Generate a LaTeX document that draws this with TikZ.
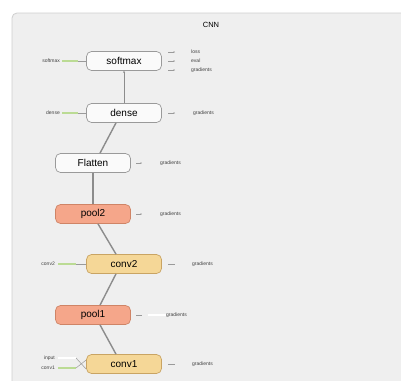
\documentclass[tikz,border=0pt]{standalone}
\usepackage{fontspec}
\setmainfont{Liberation Sans}
\usetikzlibrary{arrows.meta}
\definecolor{panelfill}{HTML}{EFEFEF}
\definecolor{panelline}{HTML}{CFCFCF}
\definecolor{opline}{HTML}{9A9A9A}
\definecolor{opfill}{HTML}{FAFAFA}
\definecolor{poolfill}{HTML}{F5A68A}
\definecolor{poolline}{HTML}{CF8466}
\definecolor{convfill}{HTML}{F5D797}
\definecolor{convline}{HTML}{C9A463}
\definecolor{feed}{HTML}{BBDB94}
\definecolor{edgecol}{HTML}{8C8C8C}
\tikzset{
  x=1pt, y=-1pt,
  op/.style={draw=opline, fill=opfill, rounded corners=5pt, line width=0.7pt,
    minimum width=75pt, minimum height=19pt, inner sep=0pt, font=\fontsize{10}{12}\selectfont},
  poolop/.style={op, draw=poolline, fill=poolfill},
  convop/.style={op, draw=convline, fill=convfill},
  tiny/.style={font=\fontsize{5}{6}\selectfont, text=black!75, inner sep=0pt},
  flow/.style={draw=edgecol, line width=1.4pt},
  thinflow/.style={draw=edgecol, line width=0.6pt},
  feedline/.style={draw=feed, line width=2.2pt},
  stub/.style={draw=opline, line width=0.5pt},
  outstub/.style={draw=opline, line width=0.5pt, -{Stealth[length=1.5pt,width=1.5pt]}},
}
\begin{document}
\begin{tikzpicture}
\useasboundingbox (0,0) rectangle (401,380);
\fill[white] (0,0) rectangle (401,380);
% graph panel, running off the right and bottom edges
\draw[panelline, fill=panelfill, line width=0.8pt, rounded corners=5pt]
  (12,395) rectangle (415,13);
\node[font=\fontsize{7.5}{9}\selectfont] (title) at (211,25) {CNN};

% operations
\node[op] (softmax) at (124,61) {softmax};
\node[op] (dense) at (124,113) {dense};
\node[op] (flatten) at (93,163) {Flatten};
\node[poolop] (pool2) at (93,214) {pool2};
\node[convop] (conv2) at (124,264) {conv2};
\node[poolop] (pool1) at (93,315) {pool1};
\node[convop] (conv1) at (124,364) {conv1};

% data flow between operations
\draw[thinflow, -{Stealth[length=2pt,width=2pt]}] (dense.north) -- (softmax.south);
\draw[flow] ([xshift=-8pt]dense.south) -- ([xshift=7pt]flatten.north);
\draw[flow] (flatten.south) -- (pool2.north);
\draw[flow] ([xshift=5pt]pool2.south) -- ([xshift=-8pt]conv2.north);
\draw[flow] ([xshift=-8pt]conv2.south) -- ([xshift=7pt]pool1.north);
\draw[flow] ([xshift=7pt]pool1.south) -- ([xshift=-8pt]conv1.north);

% inputs on the left
\node[tiny, anchor=east] (insoftmax) at (60,61) {softmax};
\draw[feedline] (62,61) -- (78,61);
\draw[stub] (78,61) -- (softmax.west);
\node[tiny, anchor=east] (indense) at (60,113) {dense};
\draw[feedline] (62,113) -- (78,113);
\draw[stub] (78,113) -- (dense.west);
\node[tiny, anchor=east] (inconv2) at (55,264) {conv2};
\draw[feedline] (58,264) -- (76,264);
\draw[stub] (76,264) -- (conv2.west);
\node[tiny, anchor=east] (ininput) at (55,358) {input};
\draw[white, line width=2.2pt] (58,358) -- (76,358);
\draw[stub] (76,358) -- ([yshift=-5pt]conv1.west);
\node[tiny, anchor=east] (inconv1) at (55,368) {conv1};
\draw[feedline] (58,368) -- (76,368);
\draw[stub] (76,368) -- ([yshift=4pt]conv1.west);

% outputs on the right
\coordinate (s1) at (175,52);
\coordinate (s2) at (175,61);
\coordinate (s3) at (175,70);
\draw[outstub] (168,52) -- (s1);
\draw[outstub] (168,61) -- (s2);
\draw[outstub] (168,70) -- (s3);
\node[tiny, anchor=west] (oloss) at (191,52) {loss};
\node[tiny, anchor=west] (oeval) at (191,61) {eval};
\node[tiny, anchor=west] (ograd0) at (191,70) {gradients};

\coordinate (d1) at (175,113);
\draw[outstub] (168,113) -- (d1);
\node[tiny, anchor=west] (ograd1) at (193,113) {gradients};

\coordinate (f1) at (142,163);
\draw[outstub] (136,163) -- (f1);
\node[tiny, anchor=west] (ograd2) at (160,163) {gradients};

\coordinate (p2) at (142,214);
\draw[outstub] (136,214) -- (p2);
\node[tiny, anchor=west] (ograd3) at (160,214) {gradients};

\coordinate (c2) at (175,264);
\draw[stub] (168,264) -- (c2);
\node[tiny, anchor=west] (ograd4) at (192,264) {gradients};

\coordinate (p1) at (142,315);
\draw[stub] (136,315) -- (p1);
\draw[white, line width=2.2pt] (148,315) -- (166,315);
\node[tiny, anchor=west] (ograd5) at (166,315) {gradients};

\coordinate (c1) at (175,364);
\draw[stub] (168,364) -- (c1);
\node[tiny, anchor=west] (ograd6) at (192,364) {gradients};
\end{tikzpicture}
\end{document}
